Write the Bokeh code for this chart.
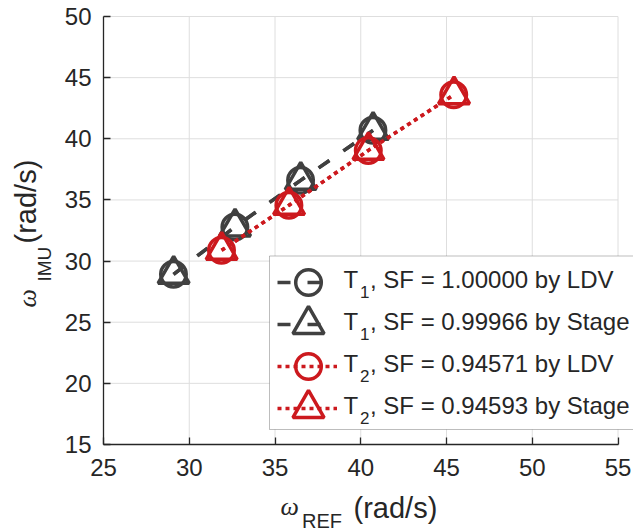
import math

from bokeh.core.properties import value
from bokeh.embed import file_html
from bokeh.models import (BoxAnnotation, FixedTicker, Label, Legend,
                          LegendItem, Range1d)
from bokeh.plotting import figure
from bokeh.resources import INLINE

# Angular rate: reference (LDV / stage) versus IMU reading, rad/s
t1_ref_ldv = [29.08, 32.66, 36.49, 40.71]
t1_ref_stage = [29.09, 32.67, 36.50, 40.72]
t1_imu = [28.92, 32.79, 36.60, 40.69]

t2_ref_ldv = [31.88, 35.81, 40.44, 45.42]
t2_ref_stage = [31.89, 35.82, 40.45, 45.44]
t2_imu = [30.88, 34.56, 39.05, 43.60]

x_ticks = [25, 30, 35, 40, 45, 50, 55]
y_ticks = [15, 20, 25, 30, 35, 40, 45, 50]

legend_subs = ["1", "1", "2", "2"]
legend_texts = [
    ", SF = 1.00000 by LDV",
    ", SF = 0.99966 by Stage",
    ", SF = 0.94571 by LDV",
    ", SF = 0.94593 by Stage",
]

# ---- layout (canvas pixels) ----------------------------------------------
W, H = 633, 531
AX_LEFT, AX_RIGHT, AX_TOP, AX_BOTTOM = 103, 617.5, 16, 444
DARK = "#404040"
RED = "#cc191e"
INK = "#262626"
SANS = "Liberation Sans"

x_lo, x_hi = x_ticks[0], x_ticks[-1]
y_lo, y_hi = y_ticks[0], y_ticks[-1]

# The plotting frame covers the whole canvas so titles and the legend are
# never clipped; axes are pinned to the data box with fixed_location.
px_x = (AX_RIGHT - AX_LEFT) / (x_hi - x_lo)
px_y = (AX_BOTTOM - AX_TOP) / (y_hi - y_lo)
x_range = Range1d(x_lo - AX_LEFT / px_x, x_hi + (W - AX_RIGHT) / px_x)
y_range = Range1d(y_lo - (H - AX_BOTTOM) / px_y, y_hi + AX_TOP / px_y)

p = figure(
    width=W, height=H, output_backend="svg", toolbar_location=None,
    x_range=x_range, y_range=y_range, min_border=0,
    min_border_left=0, min_border_right=0, min_border_top=0, min_border_bottom=0,
)
p.outline_line_color = None
p.background_fill_color = "white"
p.border_fill_color = "white"
p.xgrid.visible = False
p.ygrid.visible = False

p.xaxis.ticker = FixedTicker(ticks=x_ticks)
p.yaxis.ticker = FixedTicker(ticks=y_ticks)
p.xaxis.fixed_location = y_lo
p.yaxis.fixed_location = x_lo
p.xaxis.bounds = (x_lo, x_hi)
p.yaxis.bounds = (y_lo, y_hi)

for ax in (p.xaxis[0], p.yaxis[0]):
    ax.axis_line_color = INK
    ax.axis_line_width = 1.3
    ax.major_tick_line_color = INK
    ax.major_tick_line_width = 1.3
    ax.major_tick_in = 7
    ax.major_tick_out = 0
    ax.minor_tick_line_color = None
    ax.major_label_text_font = SANS
    ax.major_label_text_font_size = "24px"
    ax.major_label_text_color = INK
p.xaxis.major_label_standoff = 14
p.yaxis.major_label_standoff = 12

# grid lines limited to the data box
p.segment(x0=x_ticks, y0=[y_lo] * len(x_ticks), x1=x_ticks, y1=[y_hi] * len(x_ticks),
          line_color="#dedede", line_width=1)
p.segment(x0=[x_lo] * len(y_ticks), y0=y_ticks, x1=[x_hi] * len(y_ticks), y1=y_ticks,
          line_color="#dedede", line_width=1)

# ---- data series ---------------------------------------------------------
series = [
    (t1_ref_ldv, t1_imu, DARK, "13 17", "circle", 25.5),
    (t1_ref_stage, t1_imu, DARK, "13 17", "triangle", 31),
    (t2_ref_ldv, t2_imu, RED, "4 4", "circle", 25.5),
    (t2_ref_stage, t2_imu, RED, "4 4", "triangle", 31),
]
line_rs, mark_rs = [], []
for xs, ys, color, dash, marker, size in series:
    line_rs.append(p.line(xs, ys, line_color=color, line_width=3.5, line_dash=dash))
    mark_rs.append(p.scatter(xs, ys, marker=marker, size=size, fill_color=None,
                             line_color=color, line_width=3.5))


def sx(cx):
    return cx


def sy(cy):
    return H - cy


# ---- legend --------------------------------------------------------------
p.add_layout(BoxAnnotation(
    left=sx(269), right=sx(W + 10), top=sy(255.5), bottom=sy(429),
    left_units="screen", right_units="screen", top_units="screen", bottom_units="screen",
    fill_color="white", fill_alpha=1.0, line_color=INK, line_width=1,
))

ROW0, PITCH = 282, 42
MARK_X = 308


def make_legend(renderers, glyph_w, glyph_h, step, first_center, center_x):
    n = len(renderers)
    top = first_center - glyph_h / 2
    height = n * glyph_h + (n - 1) * (step - glyph_h)
    return Legend(
        items=[LegendItem(label=value(" "), renderers=[r]) for r in renderers],
        location=(sx(center_x - glyph_w / 2), sy(top + height)),
        glyph_width=glyph_w, glyph_height=glyph_h, spacing=step - glyph_h,
        padding=0, margin=0, border_line_color=None, background_fill_alpha=0,
        label_text_font_size="1px", label_height=0, label_width=0, label_standoff=0,
    )


p.add_layout(make_legend(line_rs, 60, 34, PITCH, ROW0, 306.7), "center")
p.add_layout(make_legend([mark_rs[0], mark_rs[2]], 64, 64, 2 * PITCH, ROW0, MARK_X), "center")
p.add_layout(make_legend([mark_rs[1], mark_rs[3]], 78, 78, 2 * PITCH, ROW0 + PITCH, MARK_X), "center")

# Label baselines sit a little low in the browser; lift by a fraction of the size.
BASE_LIFT = 0.3


def canvas_text(text, cx, cy, size, font=SANS, style="normal", rotated=False):
    lift = BASE_LIFT * size
    if rotated:
        cx -= lift
    else:
        cy -= lift
    p.add_layout(Label(
        x=sx(cx), y=sy(cy), x_units="screen", y_units="screen", text=text,
        angle=math.pi / 2 if rotated else 0.0, text_font=font,
        text_font_size=f"{size}px", text_font_style=style,
        text_color=INK, text_align="left", text_baseline="alphabetic",
    ))


for k, (sub, rest) in enumerate(zip(legend_subs, legend_texts)):
    base = 286 + PITCH * k
    canvas_text("T", 343, base, 24)
    canvas_text(sub, 359.5, base + 10.5, 17)
    canvas_text(rest, 369.5, base, 24)

# ---- axis titles ---------------------------------------------------------
canvas_text("\u03c9", 280, 514, 26, font="Liberation Serif", style="italic")
canvas_text("REF", 301.5, 526, 20)
canvas_text("(rad/s)", 353, 516, 29)

canvas_text("\u03c9", 35, 307, 26, font="Liberation Serif", style="italic", rotated=True)
canvas_text("IMU", 50, 281, 19, rotated=True)
canvas_text("(rad/s)", 34, 243, 29, rotated=True)

open("out.html", "w").write(file_html(p, INLINE))
